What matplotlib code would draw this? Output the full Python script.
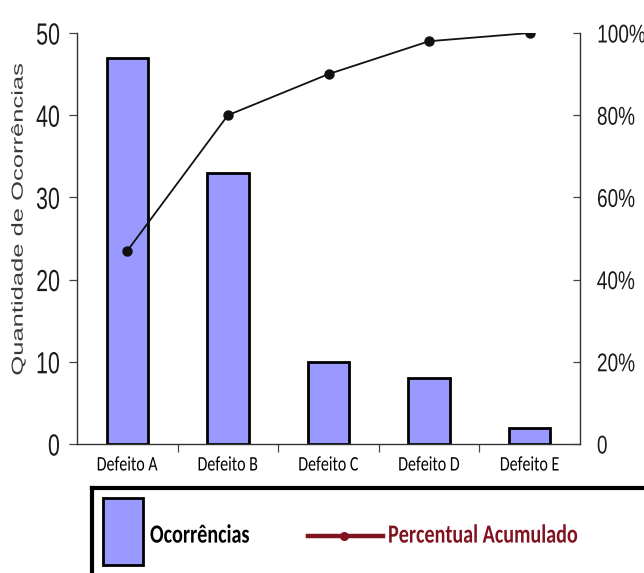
import matplotlib

matplotlib.use("Agg")
import matplotlib.patheffects as pe
import matplotlib.pyplot as plt
import numpy as np
from matplotlib.lines import Line2D
from matplotlib.patches import Rectangle
from matplotlib.ticker import FixedLocator, FuncFormatter
from matplotlib.transforms import Affine2D

# Pareto data: defect categories and occurrence counts
categories = ["Defeito A", "Defeito B", "Defeito C", "Defeito D", "Defeito E"]
occurrences = [47, 33, 10, 8, 2]
count_ticks = [0, 10, 20, 30, 40, 50]
pct_ticks = [0, 20, 40, 60, 80, 100]

BAR_COLOR = "#9999ff"
LINE_COLOR = "#111111"
LEGEND_LINE_COLOR = "#80131f"
NUM_FONT = ["Liberation Sans", "DejaVu Sans"]
CAT_FONT = ["Carlito", "DejaVu Sans"]


class Stretch(pe.AbstractPathEffect):
    """Scale a drawn text path in display space (tall, narrow lettering)."""

    def __init__(self, sx=1.0, sy=1.0, anchor="center"):
        super().__init__()
        self.sx, self.sy, self.anchor = sx, sy, anchor

    def draw_path(self, renderer, gc, tpath, affine, rgbFace=None):
        ext = tpath.get_extents(affine)
        cx = {"left": ext.x0, "right": ext.x1}.get(self.anchor, (ext.x0 + ext.x1) / 2)
        cy = (ext.y0 + ext.y1) / 2
        t = affine + Affine2D().translate(-cx, -cy).scale(self.sx, self.sy).translate(cx, cy)
        renderer.draw_path(gc, tpath, t, rgbFace)


counts = np.array(occurrences, dtype=float)
cum_pct = np.cumsum(counts) / counts.sum() * 100
x = np.arange(len(categories))

W, H = 644, 573
fig = plt.figure(figsize=(W / 100, H / 100), dpi=100)
ax = fig.add_axes([77 / W, 1 - 444 / H, 503 / W, 411 / H])
ax2 = ax.twinx()

ax.bar(x, counts, width=0.41, color=BAR_COLOR, edgecolor="black", linewidth=2.0, zorder=2)
ax2.plot(x, cum_pct, color=LINE_COLOR, lw=1.3, marker="o", ms=6.5, zorder=3)

ax.set_xlim(-0.5, len(categories) - 0.5)
ax.set_ylim(0, 50)
ax2.set_ylim(0, 100)

# category labels centred under bars, tick marks on the boundaries
ax.set_xticks(x)
ax.set_xticklabels(categories, family=CAT_FONT, fontsize=11.5)
for lbl in ax.get_xticklabels():
    lbl.set_path_effects([Stretch(1.0, 1.3)])
ax.xaxis.set_minor_locator(FixedLocator(x[:-1] + 0.5))
ax.tick_params(axis="x", which="major", length=0, pad=10)
ax.tick_params(axis="x", which="minor", length=6, direction="out", width=0.9, color="#444444")

ax.set_yticks(count_ticks)
ax.tick_params(axis="y", length=6, width=0.9, color="#444444", pad=6)
for lbl in ax.get_yticklabels():
    lbl.set_family(NUM_FONT)
    lbl.set_fontsize(22)
    lbl.set_color("#1a1a1a")
    lbl.set_path_effects([Stretch(0.7, 1.0, "right")])

ax2.set_yticks(pct_ticks)
ax2.yaxis.set_major_formatter(FuncFormatter(lambda v, _: "0" if v == 0 else f"{v:.0f}%"))
ax2.tick_params(axis="y", direction="in", length=5, width=0.9, color="#444444", pad=12)
for lbl in ax2.get_yticklabels():
    lbl.set_family(NUM_FONT)
    lbl.set_fontsize(18.5)
    lbl.set_color("#1a1a1a")
    lbl.set_path_effects([Stretch(0.74, 1.0, "left")])

for a in (ax, ax2):
    a.spines["top"].set_visible(False)
    for s in ("left", "right", "bottom"):
        a.spines[s].set_color("#333333")
        a.spines[s].set_linewidth(1.0)
ax.spines["right"].set_visible(False)
ax2.spines["left"].set_visible(False)
ax2.spines["bottom"].set_visible(False)

ax.set_ylabel("Quantidade de Ocorrências", family=NUM_FONT, fontsize=11.5, color="#3a3a3a")
ax.yaxis.label.set_path_effects([Stretch(1.0, 1.6)])
ax.yaxis.set_label_coords(-0.102, 0.547)

# boxed legend below the chart, running off the right and bottom edges
lax = fig.add_axes([92 / W, -0.05, 1.0, (573 - 488) / H + 0.05])
lax.set_xlim(0, 1)
lax.set_ylim(0, 1)
lax.set_xticks([])
lax.set_yticks([])
for s in lax.spines.values():
    s.set_linewidth(3)
    s.set_color("black")

fx = lambda px: (px - 92) / W
fy = lambda py: (573 + 0.05 * H - py) / ((573 - 488) + 0.05 * H)
lax.add_patch(Rectangle((fx(103), fy(565)), fx(143) - fx(103), fy(498) - fy(565),
                        facecolor=BAR_COLOR, edgecolor="black", lw=2.0))
lax.text(fx(150), fy(535), "Ocorrências", family=CAT_FONT, fontsize=14.5, fontweight="bold",
         va="center", ha="left", color="black", path_effects=[Stretch(1.0, 1.3)])
lax.add_line(Line2D([fx(308), fx(383)], [fy(536), fy(536)], color=LEGEND_LINE_COLOR, lw=3.2))
lax.add_line(Line2D([fx(344)], [fy(536)], color=LEGEND_LINE_COLOR, marker="o", ms=5.5))
lax.text(fx(388), fy(535), "Percentual Acumulado", family=CAT_FONT, fontsize=14.5,
         fontweight="bold", va="center", ha="left", color=LEGEND_LINE_COLOR,
         path_effects=[Stretch(1.0, 1.3)])

fig.savefig("out.png", dpi=100)
